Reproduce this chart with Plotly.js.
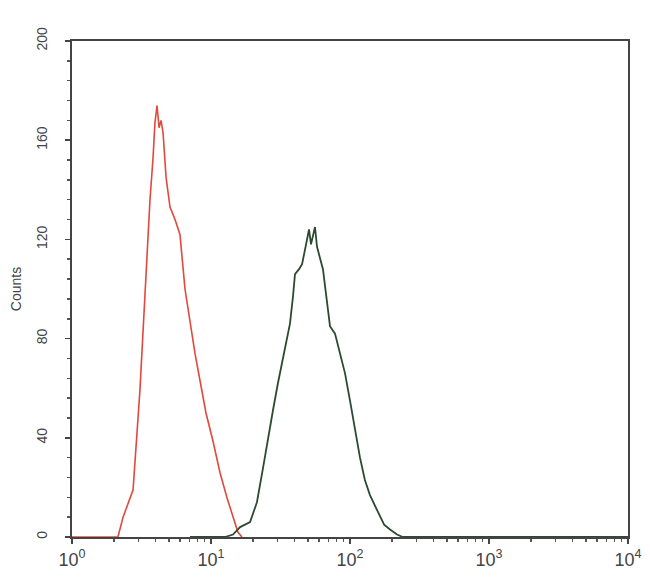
<!DOCTYPE html>
<html>
<head>
<meta charset="utf-8">
<script src="https://cdn.plot.ly/plotly-3.0.1.min.js"></script>
<style>html,body{margin:0;padding:0;background:#fff;}#chart{width:650px;height:585px;}</style>
</head>
<body>
<div id="chart"></div>
<script>
// Red (isotype/control) histogram
const redX = [1, 2.14, 2.33, 2.75, 3.08, 3.35, 3.64, 3.83, 3.95, 4.09, 4.23, 4.37, 4.52, 4.75, 5.07, 5.51, 5.98, 6.50, 7.06, 7.67, 8.34, 9.20, 10.3, 11.6, 13.0, 14.4, 15.6, 16.7];
const redY = [0, 0, 8, 19, 59, 100, 136, 153, 167, 174, 165, 168, 163, 145, 133, 128, 122, 100, 86, 74, 63, 50, 39, 26, 16, 8, 2, 0];
// Green (stained) histogram
const greenX = [7.06, 12.6, 14.4, 16.2, 19.1, 21.4, 23.7, 25.7, 27.9, 30.3, 32.4, 34.6, 37.0, 38.9, 40.2, 43.0, 45.2, 47.5, 49.1, 50.7, 52.4, 54.2, 56.0, 57.9, 60.8, 63.9, 67.2, 71.8, 78.0, 84.8, 92.1, 100, 109, 118, 128, 139, 156, 176, 194, 218, 240, 10000];
const greenY = [0, 0, 1, 4, 6, 14, 28, 40, 51, 62, 70, 78, 86, 97, 106, 108, 110, 116, 120, 124, 118, 122, 125, 117, 112, 108, 98, 85, 82, 74, 66, 55, 43, 32, 23, 17, 11, 5, 3, 1, 0, 0];
// Axis ticks
const xTickVals = [1, 10, 100, 1000, 10000];
const xTickBase = ['10', '10', '10', '10', '10'];
const xTickExp = ['0', '1', '2', '3', '4'];
const yTickVals = [0, 40, 80, 120, 160, 200];
const yTickText = ['0', '40', '80', '120', '160', '200'];
const yTitle = 'Counts';

const xTickText = xTickBase.map((b, i) => b + '<sup style="font-size:15px">' + xTickExp[i] + '</sup>');
const xMinor = [];
for (let d = 1; d < 10000; d *= 10) for (let m = 2; m <= 9; m++) xMinor.push(d * m);

const traces = [
  {x: redX, y: redY, type: 'scatter', mode: 'lines', line: {color: '#e2483c', width: 1.6}, hoverinfo: 'skip'},
  {x: greenX, y: greenY, type: 'scatter', mode: 'lines', line: {color: '#2b4a30', width: 1.8}, hoverinfo: 'skip'}
];

const layout = {
  width: 650, height: 585,
  margin: {l: 72, r: 22, t: 41, b: 48},
  paper_bgcolor: '#fff', plot_bgcolor: '#fff',
  showlegend: false,
  font: {family: 'Liberation Sans, Arial, sans-serif', color: '#333'},
  xaxis: {
    type: 'log', range: [0, 4],
    tickmode: 'array', tickvals: xTickVals, ticktext: xTickText,
    ticks: 'outside', ticklen: 5, tickwidth: 1.5, tickcolor: '#444',
    minor: {tickmode: 'array', tickvals: xMinor, ticks: 'outside', ticklen: 3, tickwidth: 1.5, tickcolor: '#555'},
    showline: true, linecolor: '#444', linewidth: 2, mirror: true,
    showgrid: false, zeroline: false,
    tickfont: {size: 18, color: '#444'}
  },
  yaxis: {
    range: [0, 200],
    tickmode: 'array', tickvals: yTickVals, ticktext: yTickText,
    tickangle: -90,
    ticks: 'outside', ticklen: 5, tickwidth: 1.5, tickcolor: '#444',
    ticklabelstandoff: 12,
    minor: {dtick: 8, ticks: 'outside', ticklen: 3, tickwidth: 1.5, tickcolor: '#555'},
    showline: true, linecolor: '#444', linewidth: 2, mirror: true,
    showgrid: false, zeroline: false,
    tickfont: {size: 14, color: '#444'},
    title: {text: yTitle, font: {size: 14, color: '#444'}, standoff: 10}
  }
};

Plotly.newPlot('chart', traces, layout, {displayModeBar: false, staticPlot: true});
</script>
</body>
</html>
